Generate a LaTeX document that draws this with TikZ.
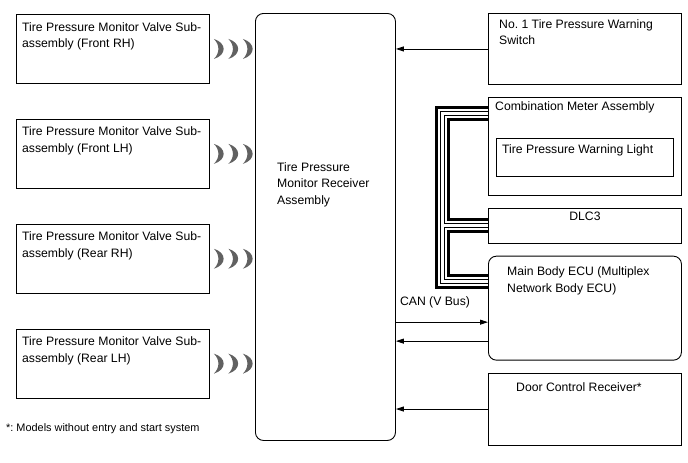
\documentclass[tikz,border=0pt]{standalone}
\usepackage{fontspec}
\setmainfont{Liberation Sans}
\usetikzlibrary{positioning,calc,arrows.meta}
\frenchspacing

\begin{document}
\begin{tikzpicture}[
    x=1pt, y=-1pt,
    font=\fontsize{12.2}{16.5}\selectfont,
    unit/.style={draw, line width=0.9pt, minimum width=193pt, inner sep=0pt},
    rnd/.style={unit, rounded corners=8pt},
    txt/.style={anchor=north west, inner sep=0pt, align=left},
    uni/.style={-{Triangle[length=8pt,width=5pt]}, line width=0.9pt},
    wave/.style={fill=black!62}
]
    \useasboundingbox (0,0) rectangle (688,463);

    % Valve sub-assemblies (left column)
    \node[unit, minimum height=69pt, anchor=north west] (vfr) at (16,14) {};
    \node[unit, minimum height=69pt, below=35pt of vfr] (vfl) {};
    \node[unit, minimum height=69pt, below=35pt of vfl] (vrr) {};
    \node[unit, minimum height=69pt, below=35pt of vrr] (vrl) {};

    \node[txt] (vfrt) at ([shift={(6,8)}]vfr.north west) {Tire Pressure Monitor Valve Sub-\\assembly (Front RH)};
    \node[txt] (vflt) at ([shift={(6,8)}]vfl.north west) {Tire Pressure Monitor Valve Sub-\\assembly (Front LH)};
    \node[txt] (vrrt) at ([shift={(6,8)}]vrr.north west) {Tire Pressure Monitor Valve Sub-\\assembly (Rear RH)};
    \node[txt] (vrlt) at ([shift={(6,8)}]vrl.north west) {Tire Pressure Monitor Valve Sub-\\assembly (Rear LH)};

    % Radio waves
    \foreach \s in {vfr,vfl,vrr,vrl}
        \foreach \d in {4,18.5,33}
            \fill[wave, shift={(\s.east)}, xshift=\d] (0,-10) .. controls (13,-6) and (13,6) .. (0,10)
                .. controls (6,4) and (6,-4) .. cycle;

    % Receiver
    \node[rnd, minimum width=140pt, minimum height=427pt, anchor=north west] (rcv) at (255,13) {};
    \node[txt] (rcvt) at ([shift={(22,149)}]rcv.north west) {Tire Pressure\\Monitor Receiver\\Assembly};

    % Right column
    \node[unit, minimum height=71pt, anchor=north west] (sw) at (488,13) {};
    \node[unit, minimum height=98pt, below=12pt of sw] (comb) {};
    \node[unit, minimum height=35pt, below=12pt of comb] (dlc) {};
    \node[rnd, minimum height=104pt, below=12pt of dlc] (ecu) {};
    \node[unit, minimum height=72pt, below=12pt of ecu] (door) {};
    \node[unit, minimum width=177pt, minimum height=38pt, anchor=north west] (warn) at ([shift={(8,41)}]comb.north west) {};

    \node[txt] (swt) at ([shift={(11,6)}]sw.north west) {No. 1 Tire Pressure Warning\\Switch};
    \node[txt] (combt) at ([shift={(7,5)}]comb.north west) {Combination Meter Assembly};
    \node[txt] (warnt) at ([shift={(6,7)}]warn.north west) {Tire Pressure Warning Light};
    \node[anchor=north, inner sep=0pt] (dlct) at ([yshift=-4pt]dlc.north) {DLC3};
    \node[txt] (ecut) at ([shift={(19,11)}]ecu.north west) {Main Body ECU (Multiplex\\Network Body ECU)};
    \node[txt] (doort) at ([shift={(28,10)}]door.north west) {Door Control Receiver*};

    % Multiplex bus
    \coordinate (bt) at (442,113);
    \coordinate (bb) at (442,281);
    \foreach \w/\c in {15/black,9/white,5/black,3/white}
        \draw[line width=\w pt, \c, line join=miter] (bt -| comb.west) -- (bt) -- (bb) -- (bb -| ecu.west)
            (bt |- dlc.west) -- (dlc.west);

    % Signals
    \coordinate (can1) at ([yshift=-14pt]ecu.west);
    \coordinate (can2) at ([yshift=-33pt]ecu.west);
    \draw[uni] (sw.west) -- (sw.west -| rcv.east);
    \draw[uni] (rcv.east |- can1) -- (can1);
    \draw[uni] (can2) -- (rcv.east |- can2);
    \draw[uni] (door.west) -- (door.west -| rcv.east);
    \path (rcv.east |- can1) ++(4,-17) node[anchor=base west, inner sep=0pt] (canl) {CAN (V Bus)};

    % Note
    \node[anchor=base west, inner sep=0pt, font=\fontsize{10.9}{13}\selectfont] (foot) at (6,431) {*: Models without entry and start system};
\end{tikzpicture}
\end{document}
